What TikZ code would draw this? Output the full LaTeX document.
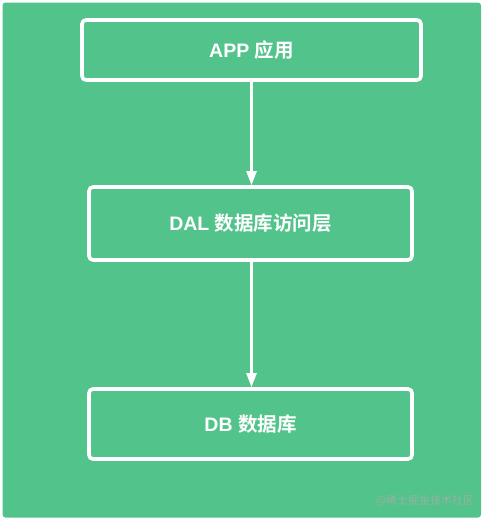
\documentclass[tikz,border=0pt]{standalone}
\usepackage{fontspec}
\setmainfont{Liberation Sans}
\newfontfamily\cjk{Noto Sans CJK SC}[BoldFont={* Bold}]
\usepackage{tikz}
\usetikzlibrary{arrows.meta,positioning}
\definecolor{bggreen}{RGB}{82,195,139}
\definecolor{markgray}{RGB}{150,178,160}

\begin{document}
\begin{tikzpicture}[x=1pt,y=-1pt,
    layer/.style={draw=white, line width=3.6pt, rounded corners=4pt,
        minimum width=323pt, inner sep=0pt, text=white,
        font=\fontsize{19.5}{22}\selectfont\bfseries},
    flow/.style={draw=white, line width=2.4pt,
        -{Triangle[width=10pt,length=14pt]}}]
        %%Background
        \useasboundingbox (0,0) rectangle (484,522);
        \fill[bggreen, rounded corners=3pt] (2.5,2.5) rectangle (481,517.5);
        %%Layers
        \node[layer, minimum width=339pt, minimum height=60pt] (app) at (251.5,50)
            {APP {\cjk 应用}};
        \node[layer, minimum height=73pt] (dal) at (250.5,223.5)
            {DAL {\cjk 数据库访问层}};
        \node[layer, minimum height=70pt] (db) at (250.5,424)
            {DB {\cjk 数据库}};
        %%Arrows
        \draw[flow] (app.south) -- (app.south |- dal.north);
        \draw[flow] (app.south |- dal.south) -- (app.south |- db.north);
        %%Watermark
        \node[text=markgray, font=\cjk\fontsize{11}{12}\selectfont] (mark) at (425,501)
            {@稀土掘金技术社区};
\end{tikzpicture}
\end{document}
